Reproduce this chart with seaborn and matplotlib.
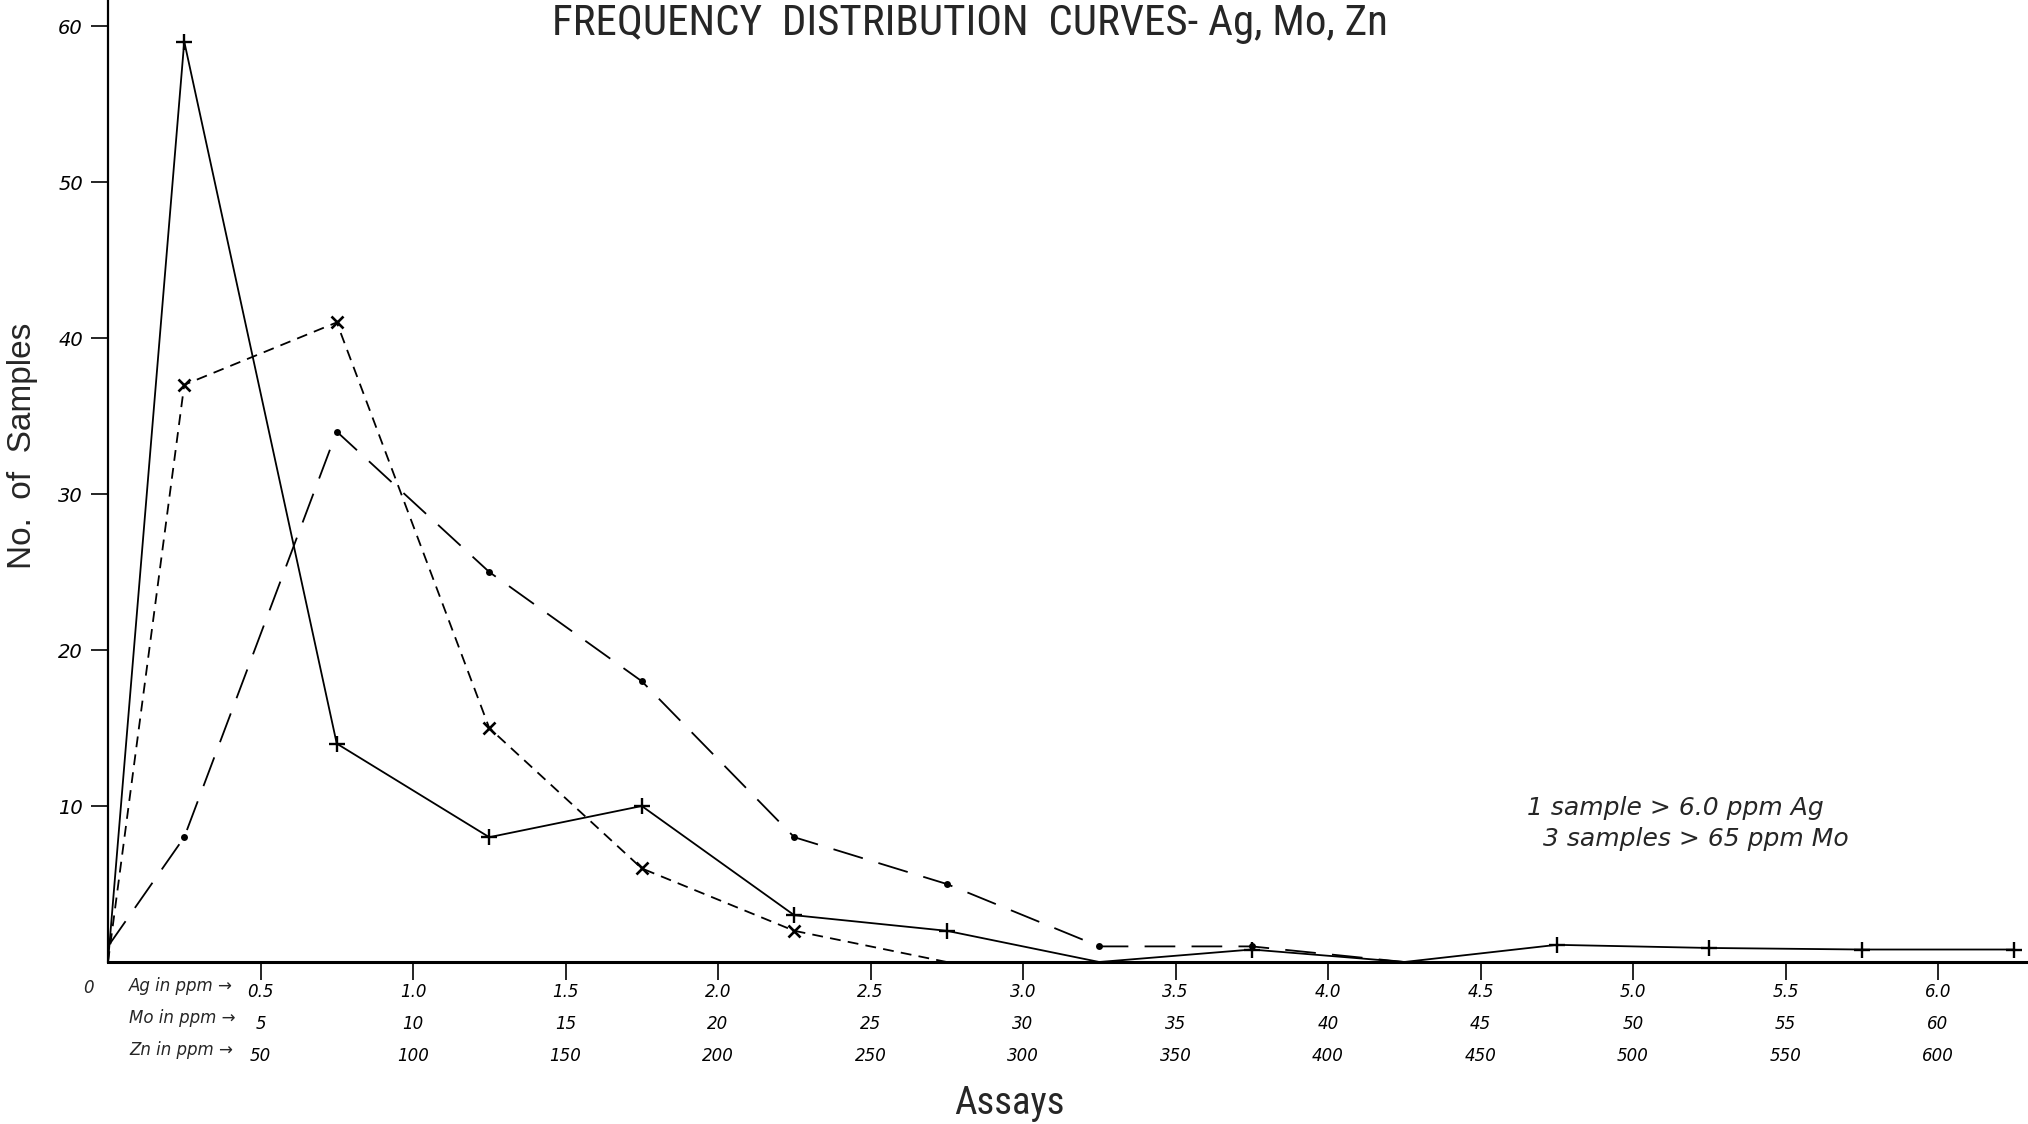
import numpy as np
import pandas as pd
import matplotlib
matplotlib.use("Agg")
import matplotlib.pyplot as plt
import seaborn as sns
from matplotlib import font_manager as fm

# ---------------- data ----------------
ag_x = [0, 0.25, 0.75, 1.25, 1.75, 2.25, 2.75, 3.25, 3.75, 4.25, 4.75, 5.25, 5.75, 6.25]
ag_n = [0, 59, 14, 8, 10, 3, 2, 0, 0.8, 0, 1.1, 0.9, 0.8, 0.8]
ag_marked = [1, 2, 3, 4, 5, 6, 8, 10, 11, 12, 13]

mo_x = [0, 0.25, 0.75, 1.25, 1.75, 2.25, 2.75]
mo_n = [0, 37, 41, 15, 6, 2, 0]
mo_marked = [1, 2, 3, 4, 5]

zn_x = [0, 0.25, 0.75, 1.25, 1.75, 2.25, 2.75, 3.25, 3.75, 4.25]
zn_n = [1, 8, 34, 25, 18, 8, 5, 1, 1, 0]
zn_marked = [1, 2, 3, 4, 5, 6, 7, 8]

tick_pos = [0.5, 1.0, 1.5, 2.0, 2.5, 3.0, 3.5, 4.0, 4.5, 5.0, 5.5, 6.0]
ag_labels = ["0.5", "1.0", "1.5", "2.0", "2.5", "3.0", "3.5", "4.0", "4.5", "5.0", "5.5", "6.0"]
mo_labels = ["5", "10", "15", "20", "25", "30", "35", "40", "45", "50", "55", "60"]
zn_labels = ["50", "100", "150", "200", "250", "300", "350", "400", "450", "500", "550", "600"]
row_names = ["Ag in ppm \u2192", "Mo in ppm \u2192", "Zn in ppm \u2192"]
y_ticks = [10, 20, 30, 40, 50, 60]
note_lines = ["1 sample > 6.0 ppm Ag", "3 samples > 65 ppm Mo"]

# ---------------- fonts ----------------
sns.set_style("white")
names = {f.name for f in fm.fontManager.ttflist}
cond_family = next((n for n in ["Liberation Sans Narrow", "Roboto Condensed"] if n in names), "DejaVu Sans")
plt.rcParams["font.family"] = ["DejaVu Sans"]
hand = dict(family="DejaVu Sans", style="italic")

W, H = 2028, 1124
fig = plt.figure(figsize=(W / 100, H / 100), dpi=100)
x0, y_base = 108, 962
ax = fig.add_axes([x0 / W, 1 - y_base / H, (W - x0) / W, y_base / H])

lw = 1.3
sns.lineplot(x=ag_x, y=ag_n, ax=ax, color="black", lw=lw, linestyle="-",
             marker="+", markersize=12, markeredgewidth=1.7, markeredgecolor="black",
             markevery=ag_marked, estimator=None, sort=False)
sns.lineplot(x=mo_x, y=mo_n, ax=ax, color="black", lw=lw, linestyle=(0, (6, 4)),
             marker="x", markersize=9, markeredgewidth=1.9, markeredgecolor="black",
             markevery=mo_marked, estimator=None, sort=False)
sns.lineplot(x=zn_x, y=zn_n, ax=ax, color="black", lw=lw, linestyle=(0, (17, 9)),
             marker="o", markersize=5, markeredgewidth=0, markerfacecolor="black",
             markevery=zn_marked, estimator=None, sort=False)

ax.set_xlim(0, (W - x0) / 305.0)
ax.set_ylim(0, y_base / 15.6)
for s in ["top", "right"]:
    ax.spines[s].set_visible(False)
ax.spines["left"].set_linewidth(1.6)
ax.spines["bottom"].set_linewidth(2.2)
ax.spines["left"].set_color("black")
ax.spines["bottom"].set_color("black")

ax.set_yticks(y_ticks)
ax.set_yticklabels([str(v) for v in y_ticks], fontsize=14, **hand)
ax.set_xticks(tick_pos)
ax.set_xticklabels([f"{a}\n{m}\n{z}" for a, m, z in zip(ag_labels, mo_labels, zn_labels)],
                   fontsize=12, linespacing=2.0, **hand)
ax.tick_params(axis="x", bottom=True, direction="out", length=13, width=1.2, pad=2, colors="black")
ax.tick_params(axis="y", left=True, direction="out", length=12, width=1.2, pad=6, colors="black")

ax.text(0.07, -15 / 962, "\n".join(row_names), transform=ax.get_xaxis_transform(),
        ha="left", va="top", fontsize=12, linespacing=2.0, **hand)
ax.text(-0.065, -17 / 962, "0", transform=ax.get_xaxis_transform(),
        ha="center", va="top", fontsize=12, **hand)
ax.set_xlabel("")
ax.set_ylabel("")

fig.text(1527 / W, 1 - 808 / H, note_lines[0], fontsize=18, ha="left", va="center", **hand)
fig.text(1543 / W, 1 - 839 / H, note_lines[1], fontsize=18, ha="left", va="center", **hand)

fig.text(970 / W, 1 - 24 / H, "FREQUENCY  DISTRIBUTION  CURVES- Ag, Mo, Zn",
         fontsize=31, family=cond_family, stretch="condensed", ha="center", va="center")
fig.text(1009 / W, 1 - 1104 / H, "Assays", fontsize=28, family=cond_family,
         stretch="condensed", ha="center", va="center")
fig.text(23 / W, 1 - 446 / H, "No.  of  Samples", fontsize=24, family="Liberation Sans",
         rotation=90, ha="center", va="center")

fig.savefig("out.png", dpi=100, facecolor="white")
